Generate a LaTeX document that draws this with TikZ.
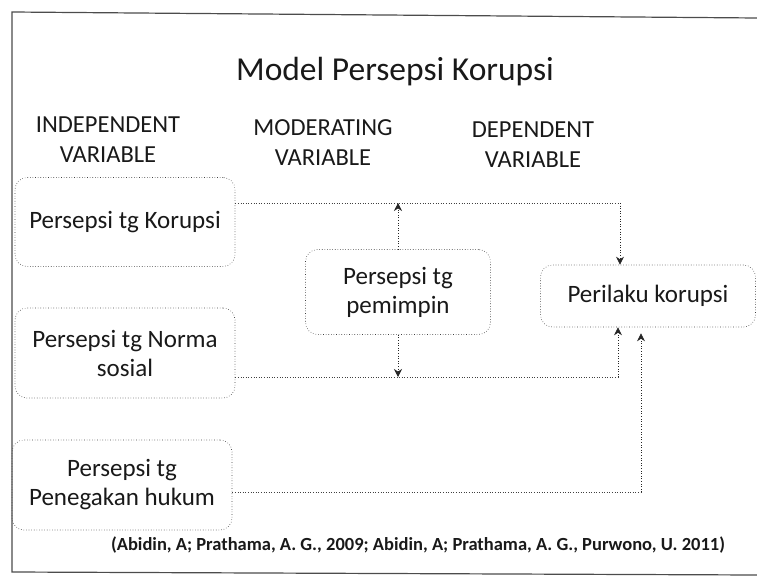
\documentclass[tikz,border=0pt]{standalone}
\usepackage{fontspec}
\setmainfont{Carlito}
\usetikzlibrary{calc}
\usetikzlibrary{arrows.meta}

\begin{document}
\begin{tikzpicture}[x=1pt,y=-1pt,
  var/.style={draw=black!75,dotted,line width=0.6pt,rounded corners=12pt,align=center,
    text=black!90,font=\fontsize{25}{29}\selectfont},
  head/.style={align=center,text=black!90,font=\fontsize{24.5}{30}\selectfont},
  link/.style={draw=black!75,dotted,line width=0.6pt},
  tip/.style={-{Stealth[length=8pt,width=8pt]},black!85}]
\useasboundingbox (0,0) rectangle (757,583);
\draw[black!70,line width=1.2pt] (757,18) -- (12,12) -- (12,572) -- (757,575);

\node[text=black!90] (title) at (395,72) {\fontsize{33.5}{38}\selectfont Model Persepsi Korupsi};
\node[head] (h1) at (108,140) {INDEPENDENT\\VARIABLE};
\node[head] (h2) at (323,143) {MODERATING\\VARIABLE};
\node[head] (h3) at (533,145) {DEPENDENT\\VARIABLE};

\node[var,minimum width=220,minimum height=89] (ind1) at (125,222) {Persepsi tg Korupsi};
\node[var,minimum width=220,minimum height=90] (ind2) at (125,353) {Persepsi tg Norma\\sosial};
\node[var,minimum width=220,minimum height=90] (ind3) at (122,485) {Persepsi tg\\Penegakan hukum};
\node[var,minimum width=185,minimum height=85] (mod) at (398,292) {Persepsi tg\\pemimpin};
\node[var,minimum width=215,minimum height=62] (dep) at (648,296) {Perilaku korupsi};

\node[text=black!90] (ref) at (418,545)
  {\fontsize{18.5}{22}\selectfont\bfseries (Abidin, A; Prathama, A. G., 2009; Abidin, A; Prathama, A. G., Purwono, U. 2011)};

\coordinate (j1) at (620,203);
\coordinate (j2) at (618,377);
\coordinate (j3) at (641,492);

\draw[link] (ind1.east |- j1) -- (j1);
\draw[link,tip] (j1) -- (dep.north -| j1);
\draw[link] (ind2.east |- j2) -- (j2);
\draw[link,tip] (j2) -- (dep.south -| j2);
\draw[link] (ind3.east |- j3) -- (j3);
\draw[link,tip,shorten >=6pt] (j3) -- (dep.south -| j3);
\draw[link,tip] (mod.north) -- (mod.north |- j1);
\draw[link,tip] (mod.south) -- (mod.south |- j2);
\end{tikzpicture}
\end{document}
